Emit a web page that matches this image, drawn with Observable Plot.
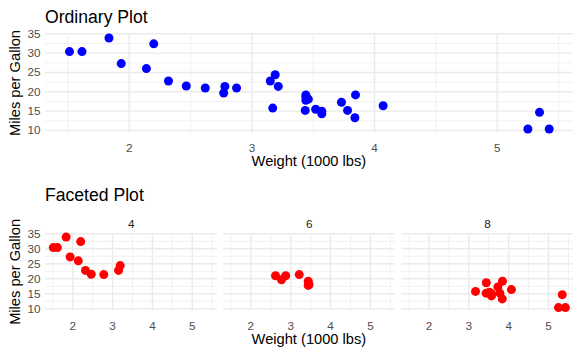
<!DOCTYPE html>
<html><head><meta charset="utf-8">
<script src="https://cdn.jsdelivr.net/npm/d3@7"></script>
<script src="https://cdn.jsdelivr.net/npm/@observablehq/plot@0.6"></script>
<style>
body{margin:0;background:#fff;}
#wrap{position:relative;width:581px;height:355px;overflow:hidden;background:#fff;}
</style></head><body><div id="wrap"></div>
<script>
// mtcars: weight (1000 lbs), miles per gallon, cylinders
const wt  = [2.620,2.875,2.320,3.215,3.440,3.460,3.570,3.190,3.150,3.440,3.440,4.070,3.730,3.780,5.250,5.424,5.345,2.200,1.615,1.835,2.465,3.520,3.435,3.840,3.845,1.935,2.140,1.513,3.170,2.770,3.570,2.780];
const mpg = [21.0,21.0,22.8,21.4,18.7,18.1,14.3,24.4,22.8,19.2,17.8,16.4,17.3,15.2,10.4,10.4,14.7,32.4,30.4,33.9,21.5,15.5,15.2,13.3,19.2,27.3,26.0,30.4,15.8,19.7,15.0,21.4];
const cyl = [6,6,4,6,8,6,8,4,4,6,6,8,8,8,8,8,8,4,4,4,4,8,8,8,8,4,4,4,8,6,8,4];
const cylLevels = [4,6,8];
const xMajor = [2,3,4,5];
const xMinor = [1.5,2.5,3.5,4.5,5.5];
const yMajor = [10,15,20,25,30,35];
const yMinor = [12.5,17.5,22.5,27.5,32.5];
const titleTop = "Ordinary Plot";
const titleBottom = "Faceted Plot";
const xTitle = "Weight (1000 lbs)";
const yTitle = "Miles per Gallon";

const cars = wt.map((w,i)=>({wt:w, mpg:mpg[i], cyl:cyl[i]}));
const expand = ([a,b]) => [a-(b-a)*0.05, b+(b-a)*0.05];
const xDom = expand(d3.extent(wt));
const yDom = expand(d3.extent(mpg));

const FONT = "'Liberation Sans', Arial, sans-serif";
const GRID = "#EBEBEB";
const TICK = "#4D4D4D";
const fmt = d => String(d);

function gridMarks(){
  return [
    Plot.gridX(xMinor,{stroke:GRID, strokeOpacity:1, strokeWidth:0.7}),
    Plot.gridY(yMinor,{stroke:GRID, strokeOpacity:1, strokeWidth:0.7}),
    Plot.gridX(xMajor,{stroke:GRID, strokeOpacity:1, strokeWidth:1.4}),
    Plot.gridY(yMajor,{stroke:GRID, strokeOpacity:1, strokeWidth:1.4})
  ];
}

const plotTop = Plot.plot({
  width:581, height:175,
  marginLeft:45, marginRight:8.3, marginTop:33, marginBottom:42,
  style:{fontFamily:FONT, background:"transparent"},
  x:{domain:xDom}, y:{domain:yDom},
  marks:[
    ...gridMarks(),
    Plot.axisX(xMajor,{tickSize:0, tickPadding:10.4, label:null, fontSize:11.7, color:TICK, tickFormat:fmt}),
    Plot.axisY(yMajor,{tickSize:0, tickPadding:5, label:null, fontSize:11.7, color:TICK, tickFormat:fmt}),
    Plot.dot(cars,{x:"wt", y:"mpg", r:4.5, fill:"#0000FF", stroke:null})
  ]
});

const plotBottom = Plot.plot({
  width:581, height:180,
  marginLeft:45, marginRight:8.3, marginTop:58.1, marginBottom:44.4,
  style:{fontFamily:FONT, background:"transparent"},
  x:{domain:xDom}, y:{domain:yDom},
  fx:{domain:cylLevels, paddingInner:0.037, paddingOuter:0, round:false},
  marks:[
    ...gridMarks(),
    Plot.axisFx({anchor:"top", tickSize:0, tickPadding:5.8, label:null, fontSize:11.7, color:"#1A1A1A"}),
    Plot.axisX(xMajor,{tickSize:0, tickPadding:10.3, label:null, fontSize:11.7, color:TICK, tickFormat:fmt}),
    Plot.axisY(yMajor,{tickSize:0, tickPadding:5, label:null, fontSize:11.7, color:TICK, tickFormat:fmt}),
    Plot.dot(cars,{x:"wt", y:"mpg", fx:"cyl", r:4.5, fill:"#FF0000", stroke:null})
  ]
});

const wrap = document.getElementById("wrap");
for (const [el, t] of [[plotTop,0],[plotBottom,175]]) {
  el.style.position = "absolute";
  el.style.left = "0px";
  el.style.top = t + "px";
  el.style.maxWidth = "none";
  wrap.appendChild(el);
}

// overlay for titles and axis titles
const ov = d3.create("svg").attr("width",581).attr("height",355)
  .style("position","absolute").style("left","0px").style("top","0px")
  .style("font-family",FONT).style("pointer-events","none");
ov.append("text").attr("x",45).attr("y",22.5).attr("font-size",17.6).attr("fill","#000").text(titleTop);
ov.append("text").attr("x",45).attr("y",200.5).attr("font-size",17.6).attr("fill","#000").text(titleBottom);
ov.append("text").attr("x",308.9).attr("y",165.5).attr("font-size",14.67).attr("text-anchor","middle").attr("fill","#000").text(xTitle);
ov.append("text").attr("x",308.9).attr("y",343.8).attr("font-size",14.67).attr("text-anchor","middle").attr("fill","#000").text(xTitle);
ov.append("text").attr("transform","translate(19.5,83) rotate(-90)").attr("font-size",14.67).attr("text-anchor","middle").attr("fill","#000").text(yTitle);
ov.append("text").attr("transform","translate(19.5,271.9) rotate(-90)").attr("font-size",14.67).attr("text-anchor","middle").attr("fill","#000").text(yTitle);
wrap.appendChild(ov.node());
</script></body></html>
